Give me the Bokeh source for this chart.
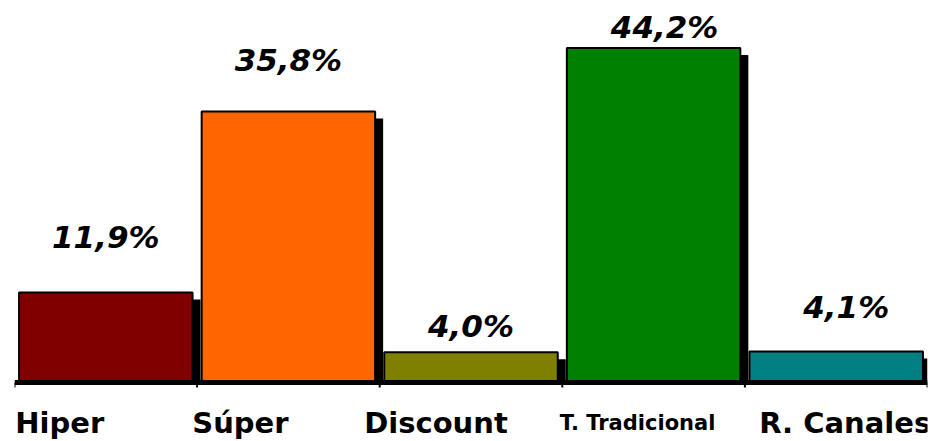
from bokeh.plotting import figure
from bokeh.models import ColumnDataSource, Range1d
from bokeh.core.properties import value
from bokeh.embed import file_html
from bokeh.resources import INLINE

categories = ["Hiper", "Súper", "Discount", "T. Tradicional", "R. Canales"]
shares = [11.9, 35.8, 4.0, 44.2, 4.1]
value_labels = ["11,9%", "35,8%", "4,0%", "44,2%", "4,1%"]

# styles / layout
colors = ["#800000", "#FF6600", "#808000", "#008000", "#008080"]
cat_font_sizes = ["29px", "29px", "29px", "21px", "29px"]
cat_x_off = [-46, -48, -35, -16, 9]
val_x_off = [0, 0, 0, 11, 10]
val_y_off = [-55, -51, -26, -21, -44]

W, H = 942, 441
left_b, right_b = 14, 15
frame_w = W - left_b - right_b
px_per_unit = 7.57
base_px = 382
y_top = base_px / px_per_unit
y_bot = -(H - base_px) / px_per_unit
n = len(categories)
px_per_x = frame_w / n

p = figure(width=W, height=H, output_backend="svg", toolbar_location=None,
           x_range=Range1d(0, n), y_range=Range1d(y_bot, y_top),
           min_border_left=left_b, min_border_right=right_b,
           min_border_top=0, min_border_bottom=0)
p.axis.visible = False
p.grid.visible = False
p.outline_line_color = None
p.background_fill_color = "white"

xs = [i + 0.5 for i in range(n)]
bw = 0.95
sh_dx = 8 / px_per_x
sh_dy = 7 / px_per_unit

src = ColumnDataSource(dict(
    x=xs, top=shares, color=colors, cat=categories, lab=value_labels,
    sx=[x + sh_dx for x in xs], stop=[s - sh_dy for s in shares],
    fs=cat_font_sizes, cxo=cat_x_off, vxo=val_x_off, vyo=val_y_off,
))

# shadows
p.vbar(x="sx", top="stop", bottom=0, width=bw, source=src,
       fill_color="black", line_color=None)
# bars
p.vbar(x="x", top="top", bottom=0, width=bw, source=src,
       fill_color="color", line_color="black", line_width=2)

# baseline axis
p.segment(x0=[0], y0=[0], x1=[n], y1=[0], line_color="black", line_width=5)
p.segment(x0=list(range(n + 1)), y0=[0] * (n + 1), x1=list(range(n + 1)),
          y1=[-5 / px_per_unit] * (n + 1), line_color="black", line_width=2)

# value labels
p.text(x="x", y="top", text="lab", source=src, x_offset="vxo", y_offset="vyo",
       text_align="center", text_baseline="middle",
       text_font=value("DejaVu Sans"), text_font_style="bold italic",
       text_font_size="31px", text_color="black")

# category labels
p.text(x="x", y=0, text="cat", source=src, x_offset="cxo", y_offset=40,
       text_align="center", text_baseline="middle",
       text_font=value("DejaVu Sans"), text_font_style="bold",
       text_font_size="fs", text_color="black")

open("out.html", "w").write(file_html(p, INLINE))
